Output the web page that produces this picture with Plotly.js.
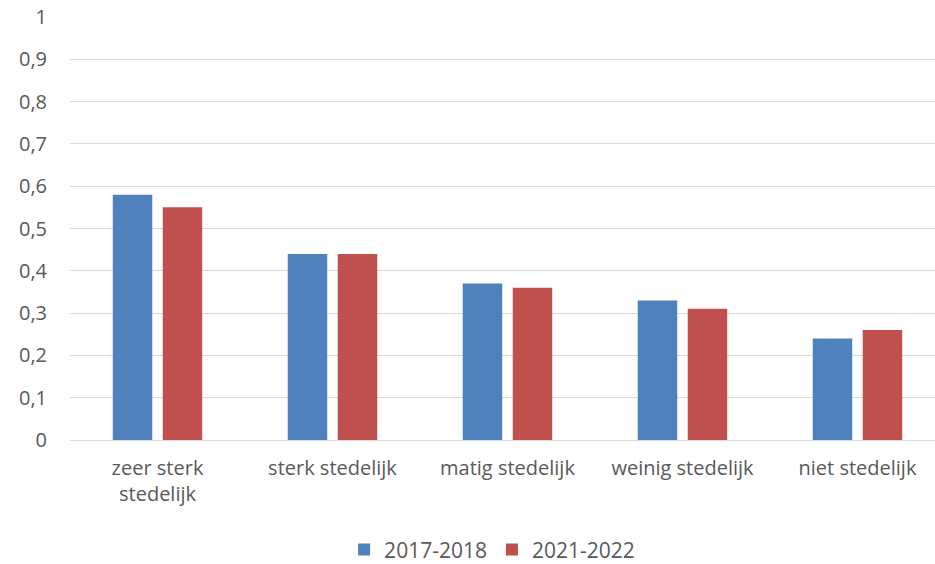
<!DOCTYPE html>
<html><head><meta charset="utf-8">
<script src="https://cdn.plot.ly/plotly-3.0.1.min.js"></script>
<style>html,body{margin:0;padding:0;background:#fff}#chart{width:935px;height:564px}</style>
</head><body><div id="chart"></div>
<script>
const categories = ["zeer sterk<br>stedelijk", "sterk stedelijk", "matig stedelijk", "weinig stedelijk", "niet stedelijk"];
const series1Name = "2017-2018";
const series1 = [0.58, 0.44, 0.37, 0.33, 0.24];
const series2Name = "2021-2022";
const series2 = [0.55, 0.44, 0.36, 0.31, 0.26];
const yTicks = [0, 0.1, 0.2, 0.3, 0.4, 0.5, 0.6, 0.7, 0.8, 0.9, 1];

const fontFam = "Open Sans, Noto Sans, sans-serif";
const data = [
  {type: "bar", name: series1Name, x: categories, y: series1, marker: {color: "#4F81BD"}},
  {type: "bar", name: series2Name, x: categories, y: series2, marker: {color: "#C0504D"}}
];
const layout = {
  width: 935, height: 564,
  margin: {l: 70, r: 0, t: 17, b: 124},
  barmode: "group", bargap: 0.4286, bargroupgap: 0.21,
  separators: ",.",
  font: {family: fontFam, size: 20, color: "#595959"},
  paper_bgcolor: "#fff", plot_bgcolor: "#fff",
  xaxis: {range: [-0.5, 4.443], showgrid: false, showline: true, linecolor: "#d9d9d9", linewidth: 1, ticks: "", tickfont: {size: 20, color: "#595959"}, ticklabelstandoff: 10},
  yaxis: {range: [0, 1], tickvals: yTicks, tickformat: ".1~f", showgrid: true, gridcolor: "#d9d9d9", gridwidth: 1, zeroline: false, showline: false, ticks: "", ticklabelstandoff: 22, tickfont: {size: 20, color: "#595959"}},
  showlegend: true,
  legend: {orientation: "h", x: 0.488, xanchor: "center", yref: "container", y: 0.025, yanchor: "middle", font: {size: 21, color: "#595959"}, itemwidth: 20}
};
Plotly.newPlot("chart", data, layout, {displayModeBar: false, staticPlot: true});
</script></body></html>
